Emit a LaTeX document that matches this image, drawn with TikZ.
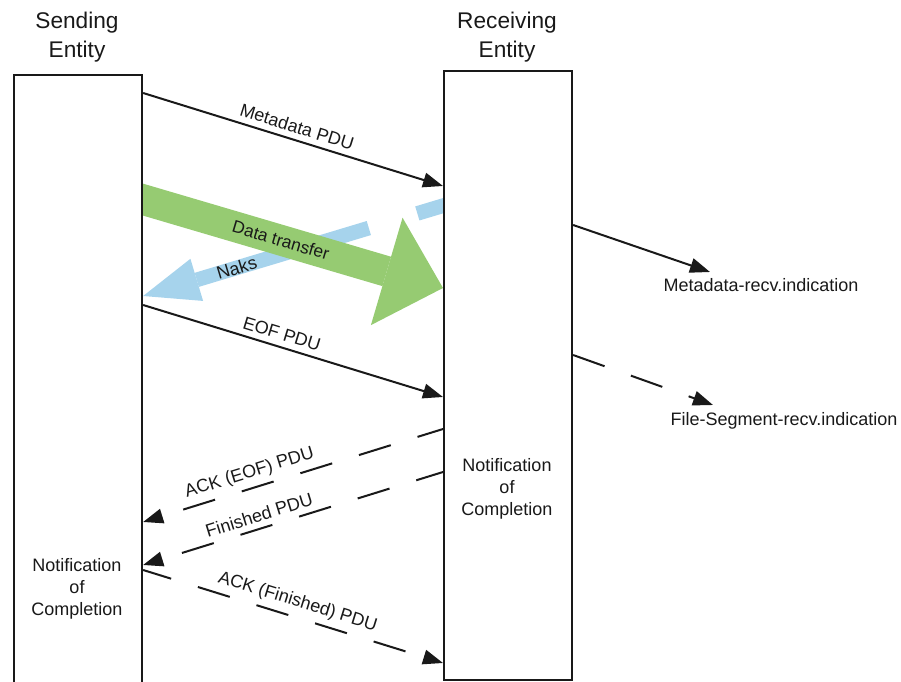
\documentclass[tikz,border=0pt]{standalone}
\usepackage{fontspec}
\setmainfont{Liberation Sans}
\usetikzlibrary{arrows.meta,backgrounds,calc}
\definecolor{dgreen}{RGB}{150,203,114}
\definecolor{lblue}{RGB}{166,211,236}
\definecolor{ink}{RGB}{25,25,25}
\begin{document}
\begin{tikzpicture}[x=0.75pt,y=-0.75pt,
  box/.style={draw=ink, line width=1.6pt, fill=white, minimum width=96pt, inner sep=0pt, anchor=north west},
  title/.style={font=\fontsize{17}{21.3}\selectfont, align=center, text=ink},
  lbl/.style={font=\fontsize{13.5}{16.5}\selectfont, text=ink},
  msg/.style={draw=ink, line width=1.5pt, -{Triangle[length=15pt,width=11pt]}},
  dmsg/.style={msg, dash pattern=on 25pt off 21pt},
  bigarrow/.style={line width=#1},
]
\useasboundingbox (0,0) rectangle (901,682);
\clip (0,0) rectangle (901,682);

% titles
\node[title] (st) at (77,37) {Sending\\Entity};
\node[title] (rt) at (507,37) {Receiving\\Entity};

% lifeline boxes
\node[box, minimum height=470pt] (sb) at (13,74) {};
\node[box, minimum height=456.75pt] (rb) at (443,70) {};

\node[lbl, align=center] (rn) at (507,489) {Notification\\of\\Completion};
\node[lbl, align=center] (sn) at (77,589) {Notification\\of\\Completion};

% coordinates on the lifelines
\coordinate (m1) at (sb.east |- 0,93);
\coordinate (m2) at (rb.west |- 0,186);
\coordinate (e1) at (sb.east |- 0,305);
\coordinate (e2) at (rb.west |- 0,397);
\coordinate (a1) at (rb.west |- 0,429);
\coordinate (a2) at (sb.east |- 0,522);
\coordinate (f1) at (rb.west |- 0,472);
\coordinate (f2) at (sb.east |- 0,565);
\coordinate (k1) at (sb.east |- 0,570);
\coordinate (k2) at (rb.west |- 0,663);
\coordinate (g1) at (125,194.3);
\coordinate (g2) at (rb.west |- 0,288);
\coordinate (n1) at (455,202.1);
\coordinate (n2) at (sb.east |- 0,296);
\coordinate (r1) at (rb.east |- 0,225);
\coordinate (r2) at (710,272);
\coordinate (s1) at (rb.east |- 0,355);
\coordinate (s2) at (713,405);

% data transfer and naks (behind the boxes)
\begin{pgfonlayer}{background}
\draw[lblue, line width=11pt, dash pattern=on 29.5pt off 38pt on 500pt,
  -{Triangle[length=42pt,width=33pt,line width=0pt]}]
  (n1) -- node[lbl, sloped, pos=0.70, font=\fontsize{13.5}{16}\selectfont] {Naks} (n2);
\draw[dgreen, line width=23pt,
  -{Triangle[length=44pt,width=84pt,line width=0pt]}]
  (g1) -- node[lbl, sloped, pos=0.49, font=\fontsize{13}{16}\selectfont] {Data transfer} (g2);
\end{pgfonlayer}

% messages
\draw[msg] (m1) -- node[lbl, sloped, above=1pt, pos=0.5] {Metadata PDU} (m2);
\draw[msg] (e1) -- node[lbl, sloped, above=1pt, pos=0.45] {EOF PDU} (e2);
\draw[dmsg, dash phase=5pt] (a1) -- node[lbl, sloped, above=1pt, pos=0.63] {ACK (EOF) PDU} (a2);
\draw[dmsg, dash phase=4pt] (f1) -- node[lbl, sloped, above=1pt, pos=0.6] {Finished PDU} (f2);
\draw[dmsg, dash phase=3pt] (k1) -- node[lbl, sloped, above=1pt, pos=0.5] {ACK (Finished) PDU} (k2);

% indications
\node[lbl] (mi) at (761,285) {Metadata-recv.indication};
\node[lbl] (fi) at (784,421) {File-Segment-recv.indication};
\draw[msg] (r1) -- (r2);
\draw[dmsg] (s1) -- (s2);
\end{tikzpicture}
\end{document}
